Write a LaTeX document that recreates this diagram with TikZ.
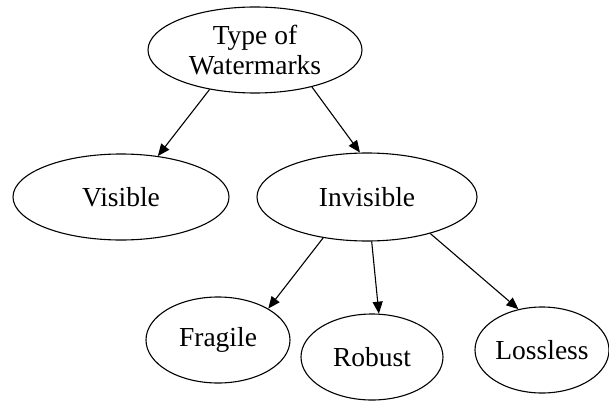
\documentclass[tikz,border=0pt]{standalone}
\usepackage{fontspec}
\setmainfont{Liberation Serif}
\usetikzlibrary{shapes.geometric,arrows.meta}
\begin{document}
\begin{tikzpicture}[x=1pt,y=-1pt,
  oval/.style={draw, ellipse, line width=1.1pt, inner sep=0pt,
    font=\fontsize{27.5}{30}\selectfont, align=center},
  link/.style={line width=1.1pt, -{Triangle[length=12pt,width=10pt]}}]
  \useasboundingbox (0,0) rectangle (609,401);
  % tree of watermark types
  \node[oval, minimum width=214pt, minimum height=86pt] (types) at (255,50) {Type of\\Watermarks};
  \node[oval, minimum width=216pt, minimum height=86pt] (visible) at (121,197) {Visible};
  \node[oval, minimum width=220pt, minimum height=88pt] (invisible) at (367,197) {Invisible};
  \node[oval, minimum width=144pt, minimum height=86pt] (fragile) at (218,340) {Fragile};
  \node[oval, minimum width=142pt, minimum height=86pt] (robust) at (372,357) {Robust};
  \node[oval, minimum width=134pt, minimum height=86pt] (lossless) at (542,350) {Lossless};
  % connectors
  \draw[link] (types.221.8) -- (visible.48.6);
  \draw[link] (types.327) -- (invisible.99);
  \draw[link] (invisible.223.7) -- (fragile.32.5);
  \draw[link] (invisible.276) -- (robust.81);
  \draw[link] (invisible.330) -- (lossless.120);
\end{tikzpicture}
\end{document}
